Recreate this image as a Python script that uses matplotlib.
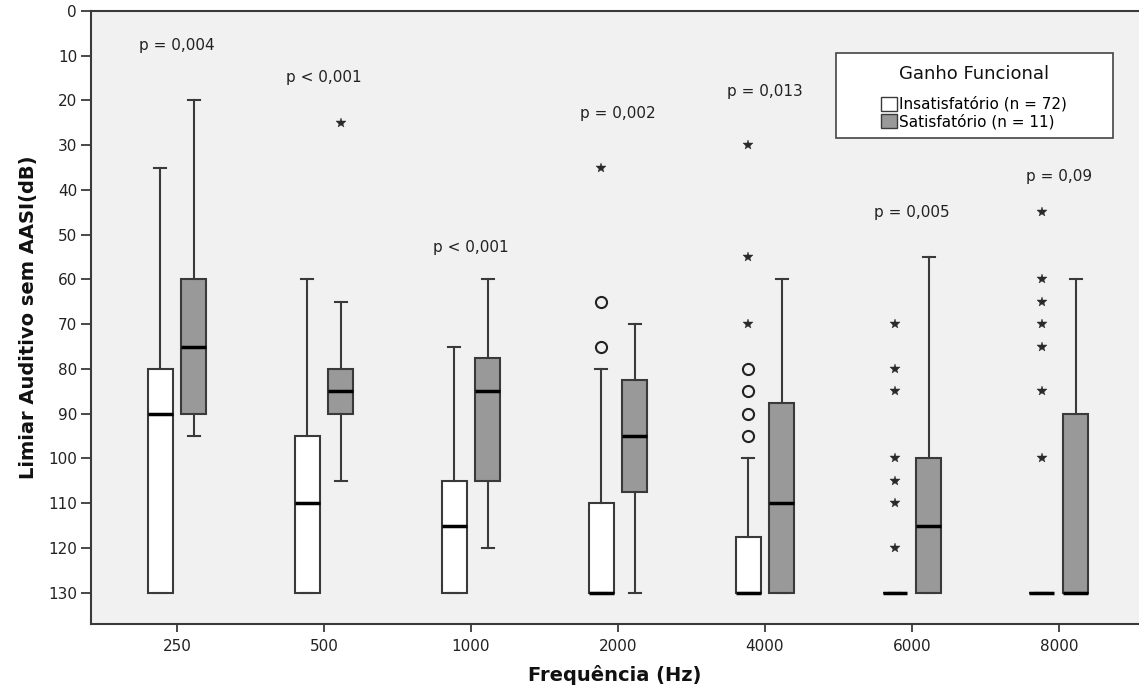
import numpy as np
import matplotlib
matplotlib.use('Agg')
import matplotlib.pyplot as plt
from matplotlib.patches import Patch, Rectangle

freqs = ['250', '500', '1000', '2000', '4000', '6000', '8000']

# Insatisfatorio (n = 72)
insat_lo = [35, 60, 75, 80, 100, 130, 130]
insat_q1 = [80, 95, 105, 110, 117.5, 130, 130]
insat_med = [90, 110, 115, 130, 130, 130, 130]
insat_q3 = [130, 130, 130, 130, 130, 130, 130]
insat_hi = [130, 130, 130, 130, 130, 130, 130]
insat_circles = [[], [], [], [65, 75], [80, 85, 90, 95], [], []]
insat_stars = [[], [], [], [35], [30, 55, 70],
               [70, 80, 85, 100, 105, 110, 120],
               [45, 60, 65, 70, 75, 85, 100]]

# Satisfatorio (n = 11)
sat_lo = [20, 65, 60, 70, 60, 55, 60]
sat_q1 = [60, 80, 77.5, 82.5, 87.5, 100, 90]
sat_med = [75, 85, 85, 95, 110, 115, 130]
sat_q3 = [90, 90, 105, 107.5, 130, 130, 130]
sat_hi = [95, 105, 120, 130, 130, 130, 130]
sat_stars = [[], [25], [], [], [], [], []]

p_txt = ['p = 0,004', 'p < 0,001', 'p < 0,001', 'p = 0,002', 'p = 0,013', 'p = 0,005', 'p = 0,09']
p_y = [7.8, 14.8, 52.8, 22.8, 17.9, 45, 37]


def make_stats(lo, q1, med, q3, hi):
    return [dict(whislo=a, q1=b, med=c, q3=d, whishi=e)
            for a, b, c, d, e in zip(lo, q1, med, q3, hi)]


dark = '#3a3a3a'
fig = plt.figure(figsize=(11.39, 6.89), dpi=100)
ax = fig.add_axes([91 / 1139, 65 / 689, 1 - 91 / 1139, 613 / 689])
ax.set_facecolor('#f0f1f0')

x = np.arange(len(freqs))
off = 0.115
w = 0.17
common = dict(widths=w, patch_artist=True, showfliers=False,
              whiskerprops=dict(color=dark, lw=1.5),
              capprops=dict(color=dark, lw=1.5),
              medianprops=dict(color='black', lw=2.5))
ax.bxp(make_stats(insat_lo, insat_q1, insat_med, insat_q3, insat_hi), positions=x - off,
       boxprops=dict(facecolor='white', edgecolor=dark, lw=1.5), **common)
ax.bxp(make_stats(sat_lo, sat_q1, sat_med, sat_q3, sat_hi), positions=x + off,
       boxprops=dict(facecolor='#999999', edgecolor=dark, lw=1.5), **common)

for i in range(len(freqs)):
    c = insat_circles[i]
    ax.plot([x[i] - off] * len(c), c, 'o', mfc='none', mec='#222222', ms=8, mew=1.5)
    s = insat_stars[i]
    ax.plot([x[i] - off] * len(s), s, '*', color='#2a2a2a', ms=7, mew=0.3)
    s = sat_stars[i]
    ax.plot([x[i] + off] * len(s), s, '*', color='#2a2a2a', ms=7, mew=0.3)
    ax.text(x[i], p_y[i], p_txt[i], ha='center', va='center', fontsize=11, color='#222222')

ax.set_xlim(-0.585, 6.545)
ax.set_ylim(137, 0)
ax.set_yticks(np.arange(0, 131, 10))
ax.set_xticks(x)
ax.set_xticklabels(freqs)
ax.tick_params(axis='y', direction='out', length=7, width=1.3, color=dark, labelsize=11, pad=3,
               labelcolor='#222222')
ax.tick_params(axis='x', direction='out', length=6, width=1.3, color=dark, labelsize=11, pad=5,
               labelcolor='#222222')
for sp in ['left', 'bottom', 'top']:
    ax.spines[sp].set_color(dark)
    ax.spines[sp].set_linewidth(1.5)
ax.spines['right'].set_visible(False)

ax.set_ylabel('Limiar Auditivo sem AASI(dB)', fontsize=14, fontweight='bold', labelpad=7, color='#111111')
ax.set_xlabel('Frequência (Hz)', fontsize=14, fontweight='bold', labelpad=8, color='#111111')

# legenda
ax.add_patch(Rectangle((0.711, 0.7928), 0.264, 0.1387, transform=ax.transAxes,
                       facecolor='white', edgecolor='#444444', lw=1.2, zorder=4))
ax.text(0.8426, 0.897, 'Ganho Funcional', transform=ax.transAxes, ha='center', va='center',
        fontsize=13, color='#111111', zorder=6)
handles = [Patch(facecolor='white', edgecolor=dark, label='Insatisfatório (n = 72)'),
           Patch(facecolor='#999999', edgecolor=dark, label='Satisfatório (n = 11)')]
leg = ax.legend(handles=handles, loc='center', bbox_to_anchor=(0.8426, 0.834), frameon=False,
                fontsize=11, handlelength=1.05, handleheight=1.05, handletextpad=0.15,
                labelspacing=0.1, borderpad=0.1)
leg.set_zorder(6)

fig.savefig('out.png', dpi=100)
